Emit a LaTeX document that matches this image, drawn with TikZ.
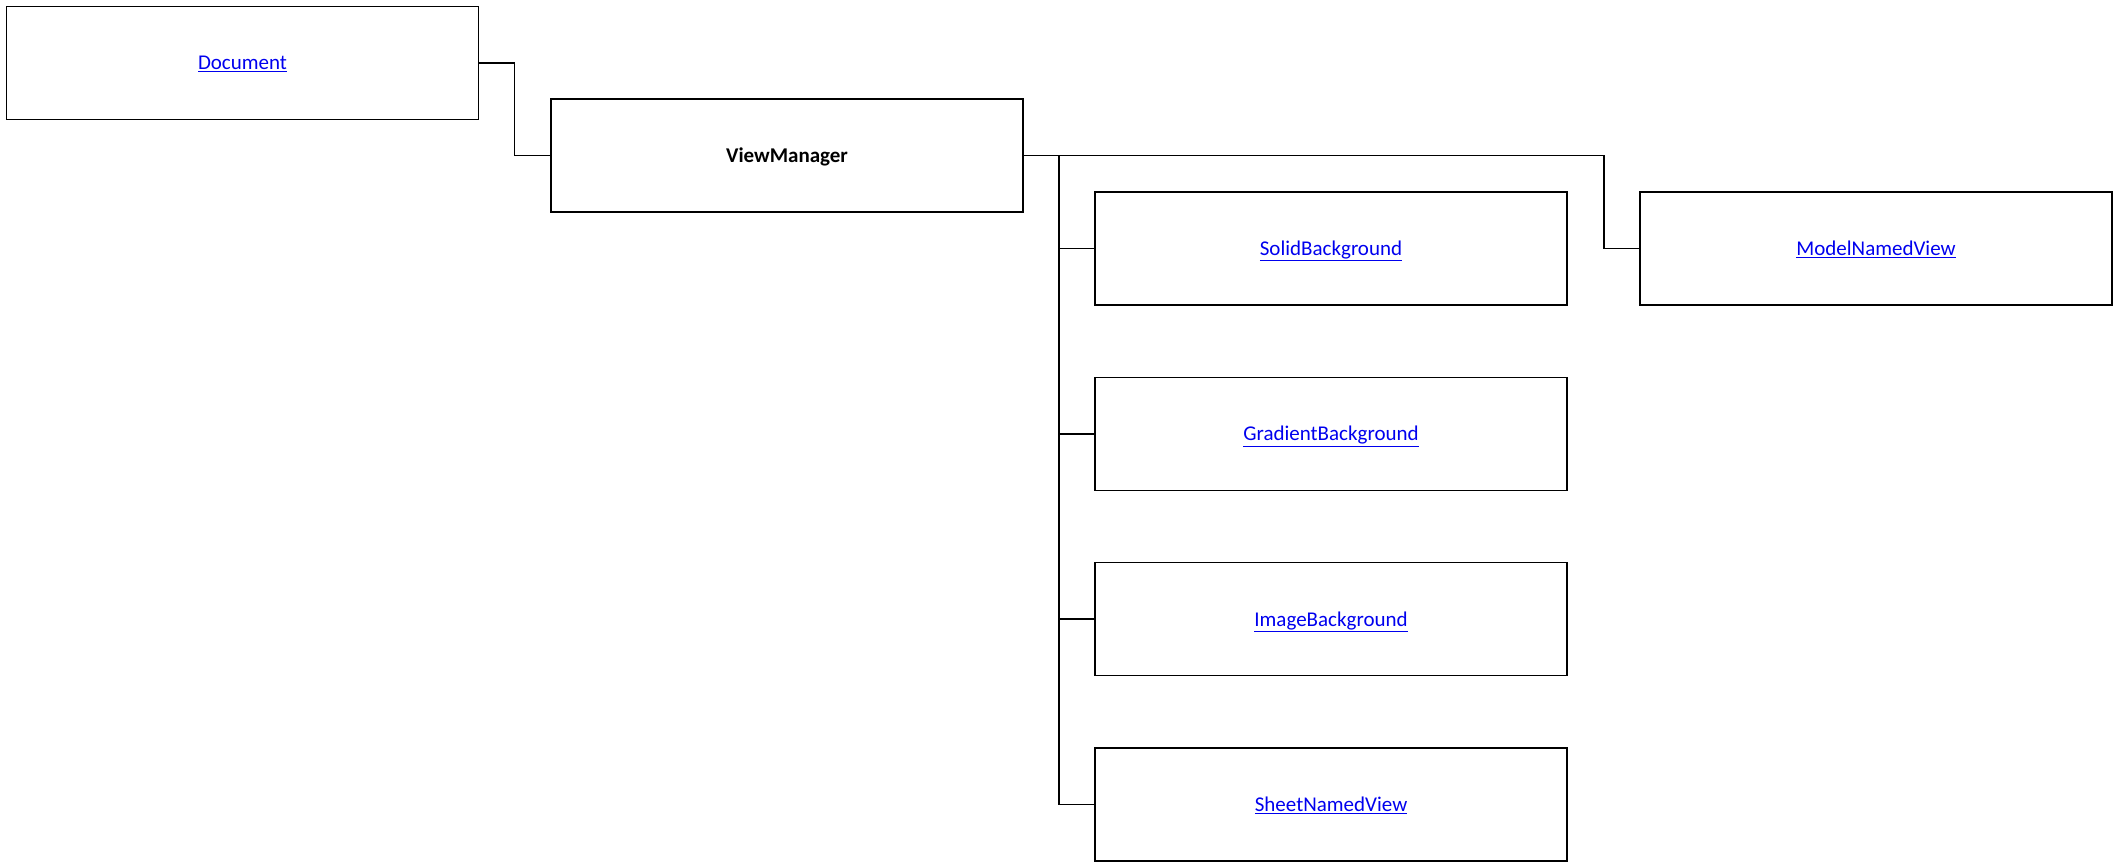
\documentclass[tikz,border=0pt]{standalone}
\usepackage{fontspec}
\setmainfont{Carlito}
\definecolor{linkblue}{RGB}{0,0,238}
\newcommand{\lnk}[1]{\raisebox{-7pt}[0pt][0pt]{\underline{#1}}}
\begin{document}
\begin{tikzpicture}[x=1pt,y=-1pt,
  box/.style={draw, line width=1.4pt, minimum width=472pt, minimum height=113pt, inner sep=0pt, font=\fontsize{21}{25}\selectfont},
  linkbox/.style={box, text=linkblue},
  wire/.style={line width=1.4pt}]
\useasboundingbox (0,0) rectangle (2117,867);
\node[linkbox] (doc) at (242.5,63) {\lnk{Document}};
\node[box, font=\fontsize{21}{25}\selectfont\bfseries] (vm) at (787,155.5) {\raisebox{-7pt}[0pt][0pt]{ViewManager}};
\node[linkbox] (solid) at (1331,248.5) {\lnk{SolidBackground}};
\node[linkbox] (grad) at (1331,433.8) {\lnk{GradientBackground}};
\node[linkbox] (img) at (1331,619.1) {\lnk{ImageBackground}};
\node[linkbox] (sheet) at (1331,804.5) {\lnk{SheetNamedView}};
\node[linkbox] (mnv) at (1876,248.5) {\lnk{ModelNamedView}};
\coordinate (tr) at (1059,155.5);
\coordinate (mb) at (1604,155.5);
\draw[wire] (doc.east) -- ++(35,0) |- (vm.west);
\draw[wire] (vm.east) -- (mb) |- (mnv.west);
\draw[wire] (tr) |- (sheet.west);
\draw[wire] (tr |- solid.west) -- (solid.west);
\draw[wire] (tr |- grad.west) -- (grad.west);
\draw[wire] (tr |- img.west) -- (img.west);
\end{tikzpicture}
\end{document}
